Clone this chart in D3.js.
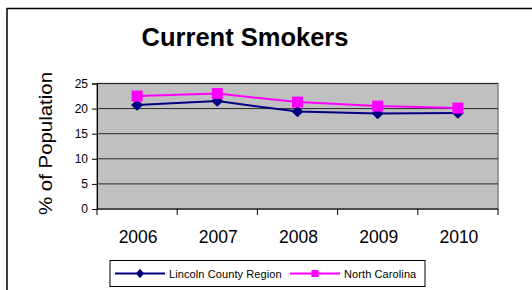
<!DOCTYPE html>
<html>
<head>
<meta charset="utf-8">
<script src="https://cdn.jsdelivr.net/npm/d3@7"></script>
<style>
    body { margin: 0; background: #ffffff; }
    svg { display: block; font-family: "Liberation Sans", Arial, sans-serif; }
</style>
</head>
<body>
<div id="chart"></div>
<script>
var years = ["2006", "2007", "2008", "2009", "2010"];
var lincolnValues = [20.7, 21.5, 19.4, 19.0, 19.1];
var carolinaValues = [22.5, 23.0, 21.3, 20.5, 20.1];
var seriesNames = ["Lincoln County Region", "North Carolina"];
var yTicks = [0, 5, 10, 15, 20, 25];

var width = 532,
    height = 290,
    plotLeft = 97,
    plotRight = 498,
    plotTop = 83.5,
    plotBottom = 209;

var colors = ["#000080", "#FF00FF"];

var series = [
    { name: seriesNames[0], values: lincolnValues, color: colors[0], shape: d3.symbolDiamond },
    { name: seriesNames[1], values: carolinaValues, color: colors[1], shape: d3.symbolSquare }
];

var svg = d3.select("#chart").append("svg")
    .attr("width", width)
    .attr("height", height);

// outer chart frame (runs off the right and bottom edge)
svg.append("rect")
    .attr("x", 7)
    .attr("y", 8.5)
    .attr("width", 560)
    .attr("height", 320)
    .style("fill", "none")
    .style("stroke", "#000")
    .style("stroke-width", 1.5);

var x = d3.scaleBand().domain(years).range([plotLeft, plotRight]);
var y = d3.scaleLinear().domain([0, 25]).range([plotBottom, plotTop]);

// plot area
svg.append("rect")
    .attr("x", plotLeft)
    .attr("y", plotTop)
    .attr("width", plotRight - plotLeft)
    .attr("height", plotBottom - plotTop)
    .style("fill", "#C0C0C0")
    .style("stroke", "#808080")
    .style("stroke-width", 1.5);

svg.append("g")
    .selectAll("line")
    .data(yTicks.slice(1))
    .enter()
    .append("line")
    .attr("x1", plotLeft)
    .attr("x2", plotRight)
    .attr("y1", function(d) { return y(d); })
    .attr("y2", function(d) { return y(d); })
    .style("stroke", "#2b2b2b")
    .style("stroke-width", 1);

// y axis
var yAxis = svg.append("g")
    .attr("transform", "translate(" + plotLeft + ",0)")
    .call(d3.axisLeft(y).tickValues(yTicks).tickSize(5).tickPadding(4));
yAxis.selectAll("text")
    .style("font-size", "12px")
    .style("fill", "#000");
yAxis.select(".domain").style("stroke", "#000");

// x axis, ticks on the band edges
var xAxis = svg.append("g")
    .attr("transform", "translate(0," + plotBottom + ")");
xAxis.append("line")
    .attr("x1", plotLeft)
    .attr("x2", plotRight)
    .style("stroke", "#000");
xAxis.selectAll(".tick")
    .data(years.concat(["end"]))
    .enter()
    .append("line")
    .attr("x1", function(d, i) { return plotLeft + i * x.step(); })
    .attr("x2", function(d, i) { return plotLeft + i * x.step(); })
    .attr("y1", 0)
    .attr("y2", 6)
    .style("stroke", "#000");
xAxis.selectAll("text")
    .data(years)
    .enter()
    .append("text")
    .attr("x", function(d) { return x(d) + x.bandwidth() / 2 + 1; })
    .attr("y", 33.5)
    .attr("text-anchor", "middle")
    .style("font-size", "17.5px")
    .text(function(d) { return d; });

// lines and markers
var line = d3.line()
    .x(function(d, i) { return x(years[i]) + x.bandwidth() / 2; })
    .y(function(d) { return y(d); });

series.forEach(function(s) {
    svg.append("path")
        .attr("d", line(s.values))
        .style("fill", "none")
        .style("stroke", s.color)
        .style("stroke-width", 2);

    svg.append("g")
        .selectAll("path")
        .data(s.values)
        .enter()
        .append("path")
        .attr("d", d3.symbol().type(s.shape).size(s.shape === d3.symbolSquare ? 121 : 80))
        .attr("transform", function(d, i) {
            var sx = s.shape === d3.symbolDiamond ? " scale(1.25,0.68)" : "";
            return "translate(" + (x(years[i]) + x.bandwidth() / 2) + "," + y(d) + ")" + sx;
        })
        .style("fill", s.color);
});

// title
svg.append("text")
    .attr("x", 245)
    .attr("y", 46)
    .attr("text-anchor", "middle")
    .style("font-size", "25.5px")
    .style("font-weight", "bold")
    .text("Current Smokers");

// y axis title
svg.append("text")
    .attr("transform", "translate(52,143.5) rotate(-90)")
    .attr("text-anchor", "middle")
    .attr("textLength", 143)
    .attr("lengthAdjust", "spacingAndGlyphs")
    .style("font-size", "18px")
    .text("% of Population");

// legend
var legend = svg.append("g");
legend.append("rect")
    .attr("x", 110)
    .attr("y", 260.5)
    .attr("width", 315)
    .attr("height", 26)
    .style("fill", "#fff")
    .style("stroke", "#000")
    .style("stroke-width", 1);

var legendX = [115, 290];
var legendItems = legend.selectAll(".item")
    .data(series)
    .enter()
    .append("g")
    .attr("transform", function(d, i) { return "translate(" + legendX[i] + ",273.5)"; });

legendItems.append("line")
    .attr("x1", 0)
    .attr("x2", 50)
    .style("stroke", function(d) { return d.color; })
    .style("stroke-width", 2);

legendItems.append("path")
    .attr("d", function(d) { return d3.symbol().type(d.shape).size(d.shape === d3.symbolSquare ? 50 : 40)(); })
    .attr("transform", function(d) {
        return "translate(25,0)" + (d.shape === d3.symbolDiamond ? " scale(1.2,0.8)" : "");
    })
    .style("fill", function(d) { return d.color; });

legendItems.append("text")
    .attr("x", 54)
    .attr("y", 4)
    .style("font-size", "11px")
    .style("letter-spacing", "0.1px")
    .text(function(d) { return d.name; });
</script>
</body>
</html>
